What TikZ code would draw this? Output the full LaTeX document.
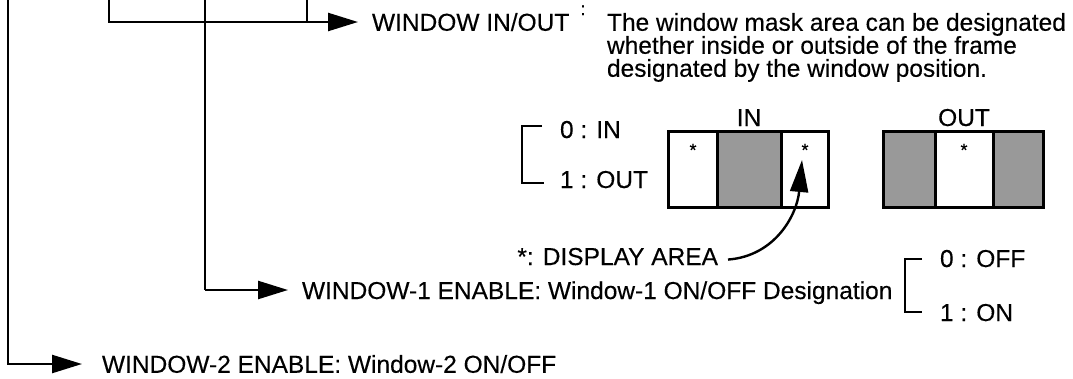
\documentclass[tikz,border=0pt]{standalone}
\usepackage{fontspec}
\setmainfont{Liberation Sans}[FakeBold=0.3]
\usetikzlibrary{arrows.meta}
\tikzset{
  txt/.style={inner sep=0pt, outer sep=0pt, font=\fontsize{24.5}{23}\selectfont},
  wire/.style={line width=2.4pt},
  conn/.style={line width=2.4pt, -{Triangle[length=30pt,width=18pt]}},
  curvearrow/.style={line width=2.4pt, -{Triangle[length=32pt,width=18pt]}},
  boxline/.style={line width=3pt},
  shadefill/.style={fill=black!40},
  starmark/.style={inner sep=0pt, font=\fontsize{18}{18}\selectfont},
}
\begin{document}
\begin{tikzpicture}[x=1pt,y=-1pt]
\useasboundingbox (0,0) rectangle (1073,378);
% free ends at the top edge
\coordinate (topA) at (8,0);
\coordinate (topB) at (205,0);
\coordinate (topC) at (109,0);
\coordinate (topD) at (307,0);
\coordinate (join) at (307,22);
% WINDOW IN/OUT
\node[txt,anchor=west] (inout) at (372,22) {WINDOW IN/OUT};
\node[starmark,anchor=base] (colon) at (583,15) {:};
\node[txt,anchor=north west,align=left] (desc) at (607,13)
  {The window mask area can be designated\\whether inside or outside of the frame\\designated by the window position.};
\draw[wire] (topC) |- (join);
\draw[wire] (topD) -- (join);
\draw[conn,shorten >=14pt] (join) -- (inout.west);
% 0/1 bracket IN OUT
\node[txt,anchor=base west] (inzero) at (560,138) {0 : IN};
\node[txt,anchor=base west] (inone) at (560,188) {1 : OUT};
\coordinate (brA1) at (542,126);
\coordinate (brA2) at (522,126);
\coordinate (brA3) at (522,183);
\coordinate (brA4) at (544,183);
\draw[wire] (brA1) -- (brA2) -- (brA3) -- (brA4);
% IN box
\fill[shadefill] (717,131) rectangle (781,207);
\draw[boxline] (668,131) rectangle (828,207);
\draw[boxline] (717,131) -- (717,207);
\draw[boxline] (781,131) -- (781,207);
\node[txt,anchor=base] (inlabel) at (749,126) {IN};
\node[starmark] (starA) at (693,150) {*};
\node[starmark] (starB) at (805,150) {*};
% OUT box
\fill[shadefill] (883,131) rectangle (935,207);
\fill[shadefill] (993,131) rectangle (1043,207);
\draw[boxline] (883,131) rectangle (1043,207);
\draw[boxline] (935,131) -- (935,207);
\draw[boxline] (993,131) -- (993,207);
\node[txt,anchor=base] (outlabel) at (964,126) {OUT};
\node[starmark] (starC) at (964,150) {*};
% display area
\node[txt,anchor=base east] (disp) at (718,265) {*: DISPLAY AREA};
\coordinate (tipIN) at (802,160);
\draw[curvearrow] ([xshift=10pt,yshift=-3pt]disp.east) .. controls (775,256) and (797,215) .. (tipIN);
% WINDOW-1
\coordinate (armB) at (205,290);
\node[txt,anchor=base west] (wone) at (302,299) {WINDOW-1 ENABLE: Window-1 ON/OFF Designation};
\draw[wire] (topB) -- (armB);
\draw[conn] (armB) -- ([xshift=-14pt]wone.base west |- armB);
\node[txt,anchor=base west] (offzero) at (940,267) {0 : OFF};
\node[txt,anchor=base west] (onone) at (940,321) {1 : ON};
\coordinate (brB1) at (922,259);
\coordinate (brB2) at (905,259);
\coordinate (brB3) at (905,312);
\coordinate (brB4) at (922,312);
\draw[wire] (brB1) -- (brB2) -- (brB3) -- (brB4);
% WINDOW-2
\node[txt,anchor=west] (wtwo) at (102,364) {WINDOW-2 ENABLE: Window-2 ON/OFF};
\draw[conn,shorten >=20pt] (topA) |- (wtwo.west);
\end{tikzpicture}
\end{document}
